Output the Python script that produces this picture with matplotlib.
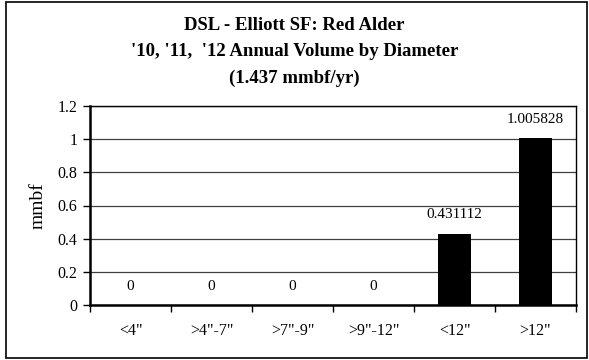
import matplotlib.pyplot as plt
from matplotlib.patches import Rectangle

# data
categories = ['<4"', '>4"-7"', '>7"-9"', '>9"-12"', '<12"', '>12"']
volumes = [0, 0, 0, 0, 0.431112, 1.005828]
value_labels = ['0', '0', '0', '0', '0.431112', '1.005828']
yticks = [0, 0.2, 0.4, 0.6, 0.8, 1, 1.2]
ytick_labels = ['0', '0.2', '0.4', '0.6', '0.8', '1', '1.2']
title_lines = ["DSL - Elliott SF: Red Alder",
               "'10, '11,  '12 Annual Volume by Diameter",
               "(1.437 mmbf/yr)"]

plt.rcParams['font.family'] = ['Liberation Serif', 'DejaVu Serif']

fig = plt.figure(figsize=(5.89, 3.6), dpi=100)
fig.patch.set_facecolor('white')

# outer chart frame
fig.patches.append(Rectangle((6/589, 2/360), 581/589, 356/360, transform=fig.transFigure,
                             fill=False, edgecolor='black', linewidth=1.2))

ax = fig.add_axes([90/589, 55/360, 486/589, 199/360])

x = list(range(len(categories)))
ax.bar(x, volumes, width=0.4, color='black', zorder=3)

for xi, v, lab in zip(x, volumes, value_labels):
    ax.annotate(lab, (xi, v), xytext=(0, 9), textcoords='offset points',
                ha='center', va='bottom', fontsize=11)

ax.set_xlim(-0.5, len(categories) - 0.5)
ax.set_ylim(0, 1.2)
ax.set_yticks(yticks)
ax.set_yticklabels(ytick_labels, fontsize=11.5)
ax.set_xticks(x)
ax.set_xticklabels(categories, fontsize=11.5)
ax.tick_params(axis='x', which='major', length=0, pad=13)
ax.set_xticks([i - 0.5 for i in range(len(categories) + 1)], minor=True)
ax.tick_params(axis='x', which='minor', length=5, width=1, direction='out')
ax.tick_params(axis='y', length=5, width=1, direction='out', pad=4)

ax.yaxis.grid(True, color='#404040', linewidth=0.9, zorder=0)
ax.set_axisbelow(True)

for side in ['top', 'right']:
    ax.spines[side].set_linewidth(1.0)
for side in ['left', 'bottom']:
    ax.spines[side].set_linewidth(1.8)

ax.set_ylabel('mmbf', fontsize=14, labelpad=8)

for i, line in enumerate(title_lines):
    fig.text(0.5, 1 - (25 + 26.5 * i) / 360, line, ha='center', va='center',
             fontsize=13.5, fontweight='bold')

fig.savefig('out.png', dpi=100)
